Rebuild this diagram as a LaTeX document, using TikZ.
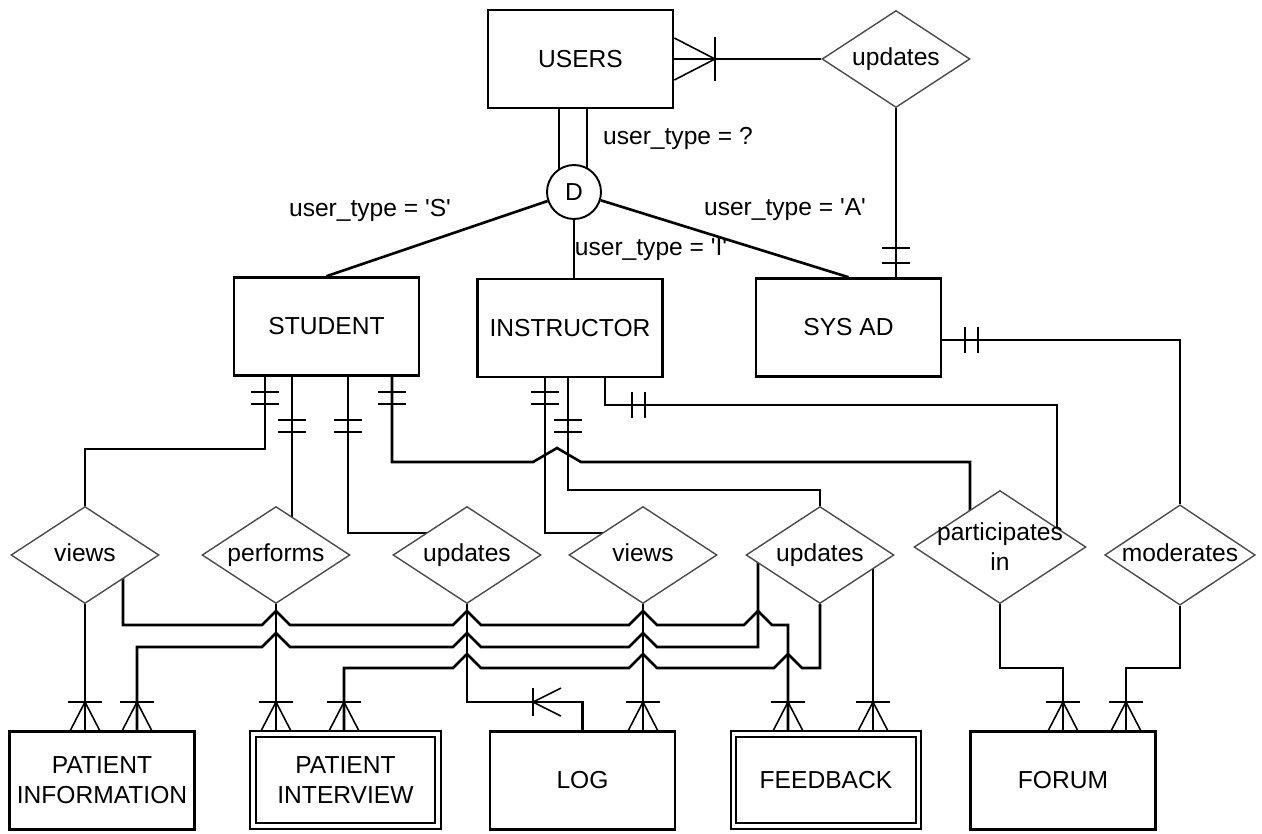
\documentclass[tikz,border=0pt]{standalone}
\usepackage{fontspec}
\setmainfont{Liberation Sans}
\usetikzlibrary{shapes.geometric, backgrounds}

% crow's foot (one or many) on top of an entity, foot at (#1,#2)
\newcommand{\manyfoot}[2]{%
    \draw[cardtick] (#1-15,#2) -- (#1,#2-29) -- (#1+15,#2);
    \draw[cardtick] (#1-17,#2-29) -- (#1+17,#2-29);
}
% two bars across a vertical line at x=#1
\newcommand{\onlyoneV}[3]{%
    \draw[cardtick] (#1-14,#2) -- (#1+14,#2) (#1-14,#3) -- (#1+14,#3);
}
% two bars across a horizontal line at y=#1
\newcommand{\onlyoneH}[3]{%
    \draw[cardtick] (#2,#1-13) -- (#2,#1+13) (#3,#1-13) -- (#3,#1+13);
}
% hop of a horizontal line over a vertical one at x=#1
\newcommand{\hopover}[2]{-- (#1-14,#2) -- (#1,#2-14) -- (#1+14,#2)}

\begin{document}
\begin{tikzpicture}[
    % GLOBAL CFG (one unit = one pixel of the sketch)
    x=0.02cm, y=-0.02cm,
    font=\fontsize{14}{17}\selectfont,
    % Styles
    entity/.style={% For the entity boxes
        rectangle,
        draw,
        line width=1.5pt,
        fill=white,
        minimum width=3.7cm,
        minimum height=1.96cm,
        inner sep=0pt,
        align=center,
        },
    weak/.style={% For the weak entities
        entity,
        double,
        line width=1.1pt,
        double distance=2.2pt,
        minimum height=1.84cm,
        },
    rel/.style={% For relationships
        diamond,
        draw=black!70,
        line width=0.8pt,
        fill=white,
        shape aspect=1.5,
        minimum width=2.96cm,
        minimum height=1.94cm,
        inner sep=0pt,
        text height=10pt,
        text depth=3pt,
        },
    disc/.style={% For the disjoint circle
        circle,
        draw,
        line width=1.1pt,
        fill=white,
        minimum size=1.08cm,
        inner sep=0pt,
        },
    conn/.style={% connectors
        line width=1.5pt,
        },
    cardtick/.style={% cardinality marks
        line width=0.9pt,
        },
    cond/.style={% conditions on the subtype lines
        inner sep=0pt,
        },
    ]

    \useasboundingbox (0,0) rectangle (1262,833);

    % Entities
    \node [entity] (users) at (580.5,59) {USERS};
    \node [entity] (stu) at (326.5,326.5) {STUDENT};
    \node [entity] (ins) at (570,328) {INSTRUCTOR};
    \node [entity] (sys) at (848.5,327.5) {SYS AD};
    \node [entity] (pinfo) at (102,780.5) {PATIENT\\INFORMATION};
    \node [weak] (pinter) at (345.5,780) {PATIENT\\INTERVIEW};
    \node [entity] (log) at (582.5,780.5) {LOG};
    \node [weak] (feedb) at (826,780) {FEEDBACK};
    \node [entity] (forum) at (1063,780.5) {FORUM};

    % Disjoint specialisation
    \node [disc] (D) at (574,192) {D};

    % Relationships
    \node [rel] (updU) at (896,59) {updates};
    \node [rel] (viewsS) at (85,555) {views};
    \node [rel] (perf) at (276,555) {performs};
    \node [rel] (updS) at (467,555) {updates};
    \node [rel] (viewsI) at (643,555) {views};
    \node [rel] (updI) at (820,555) {updates};
    \node [rel, minimum width=3.44cm, minimum height=2.26cm,
        label={[align=center, inner sep=0pt]center:participates\\in}] (part) at (1000,547) {};
    \node [rel] (mod) at (1180,555) {moderates};

    % Conditions
    \node [cond] (lq) at (678,138) {user\_type = ?};
    \node [cond] (ls) at (370,210) {user\_type = \textquotesingle S\textquotesingle};
    \node [cond] (li) at (651,250) {user\_type = \textquotesingle I\textquotesingle};
    \node [cond] (la) at (785,210) {user\_type = \textquotesingle A\textquotesingle};

    \begin{scope}[on background layer]
    % USERS and subtypes
    \draw [conn] (users) -- (updU);
    \draw [conn] (updU) -- (updU |- sys.north);
    \draw [conn] (users.south -| 559,0) -- (D -| 559,0);
    \draw [conn] (users.south -| 587,0) -- (D -| 587,0);
    \draw [conn] (D) -- (stu.north);
    \draw [conn] (D) -- (D |- ins.north);
    \draw [conn] (D) -- (sys.north);

    % From STUDENT
    \draw [conn] (stu.south -| 265,0) -- (265,449) -| (viewsS);
    \draw [conn] (stu.south -| 292,0) -- (perf -| 292,0);
    \draw [conn] (stu.south -| 348,0) -- (348,533) -- (updS |- 0,533);
    \draw [conn] (stu.south -| 392,0) -- (392,462) -- (533,462) -- (557,448) -- (581,462)
        -- (970,462) -- (part -| 970,0);

    % From INSTRUCTOR and SYS AD
    \draw [conn] (ins.south -| 545,0) -- (545,533) -- (viewsI |- 0,533);
    \draw [conn] (ins.south -| 568,0) -- (568,490) -| (updI);
    \draw [conn] (ins.south -| 605,0) -- (605,405) -- (1057,405) -- (part -| 1057,0);
    \draw [conn] (sys.east |- 0,340) -| (mod);

    % Down to the lower entities
    \draw [conn] (viewsS) -- (viewsS |- pinfo.north);
    \draw [conn] (viewsS -| 123,0) -- (123,625) \hopover{276}{625} \hopover{467}{625}
        \hopover{643}{625} \hopover{758}{625} -| (feedb.north -| 788,0);
    \draw [conn] (perf) -- (perf |- pinter.north);
    \draw [conn] (updS) -- (updS |- 0,702) -| (log.north);
    \draw [conn] (viewsI) -- (viewsI |- log.north);
    \draw [conn] (pinfo.north -| 137,0) -- (137,647) \hopover{276}{647} \hopover{467}{647}
        \hopover{643}{647} -- (758,647) -- (updI -| 758,0);
    \draw [conn] (pinter.north -| 344,0) -- (344,668) \hopover{467}{668} \hopover{643}{668}
        \hopover{788}{668} -| (updI);
    \draw [conn] (updI -| 873,0) -- (feedb.north -| 873,0);
    \draw [conn] (part) |- (forum.north |- 0,668) -- (forum.north);
    \draw [conn] (mod) |- (1126,668) -- (forum.north -| 1126,0);
    \end{scope}

    % Cardinalities
    \draw [cardtick] (users.east |- 0,38) -- (715,59) -- (users.east |- 0,80);
    \draw [cardtick] (715,37) -- (715,81);
    \onlyoneV{896}{248}{263}
    \onlyoneV{265}{392}{404}
    \onlyoneV{292}{420}{432}
    \onlyoneV{348}{420}{432}
    \onlyoneV{392}{392}{404}
    \onlyoneV{545}{392}{404}
    \onlyoneV{568}{420}{432}
    \onlyoneH{405}{632}{645}
    \onlyoneH{340}{965}{978}
    \draw [cardtick] (561,688) -- (533,702) -- (561,716);
    \draw [cardtick] (533,688) -- (533,716);
    \manyfoot{85}{731}
    \manyfoot{137}{731}
    \manyfoot{276}{731}
    \manyfoot{344}{731}
    \manyfoot{643}{731}
    \manyfoot{788}{731}
    \manyfoot{873}{731}
    \manyfoot{1063}{731}
    \manyfoot{1126}{731}

\end{tikzpicture}
\end{document}
